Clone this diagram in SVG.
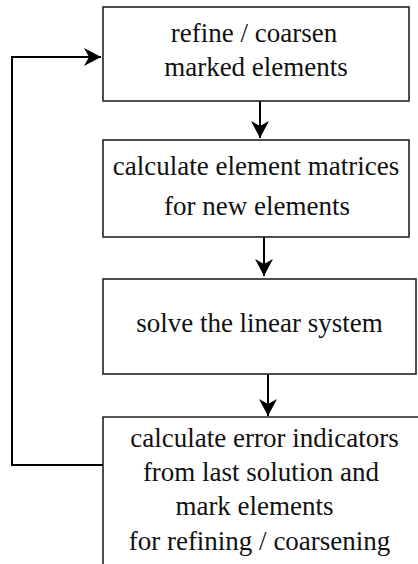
<svg xmlns="http://www.w3.org/2000/svg" width="418" height="564" viewBox="0 0 418 564">
<defs>
<style>
.box{fill:#fff;stroke:#222;stroke-width:1.6}
.t{font-size:27px;fill:#111;text-anchor:middle}
.c{fill:none;stroke:#000;stroke-width:2}
</style>
<marker id="ah" markerWidth="18" markerHeight="18" viewBox="0 0 18 18" refX="17" refY="9" orient="auto" markerUnits="userSpaceOnUse">
<path d="M0,0 L17,9 L0,18 L5,9 Z" fill="#000"/>
</marker>
</defs>
<rect width="418" height="564" fill="#fff"/>
<g id="connectors">
<line class="c" x1="260" y1="101" x2="260" y2="138" marker-end="url(#ah)"/>
<line class="c" x1="264" y1="237" x2="264" y2="276" marker-end="url(#ah)"/>
<line class="c" x1="268" y1="374" x2="268" y2="416" marker-end="url(#ah)"/>
<polyline class="c" points="103,465 12,465 12,57 101,57" marker-end="url(#ah)"/>
</g>
<g font-family="'Liberation Serif', 'Times New Roman', Tinos, 'DejaVu Serif', serif">
<g id="n1">
<rect class="box" x="103" y="7" width="306" height="94"/>
<text class="t" x="254" y="42">refine / coarsen</text>
<text class="t" x="256" y="76">marked elements</text>
</g>
<g id="n2">
<rect class="box" x="103" y="140" width="306" height="97"/>
<text class="t" x="256" y="175">calculate element matrices</text>
<text class="t" x="257" y="215">for new elements</text>
</g>
<g id="n3">
<rect class="box" x="103" y="279" width="313" height="95"/>
<text class="t" x="259.5" y="332">solve the linear system</text>
</g>
<g id="n4">
<path class="box" d="M418,417 L103,417 L103,564" fill="none"/>
<text class="t" x="264.5" y="447">calculate error indicators</text>
<text class="t" x="261" y="481">from last solution and</text>
<text class="t" x="254.5" y="515">mark elements</text>
<text class="t" x="259.5" y="550">for refining / coarsening</text>
</g>
</g>
</svg>
